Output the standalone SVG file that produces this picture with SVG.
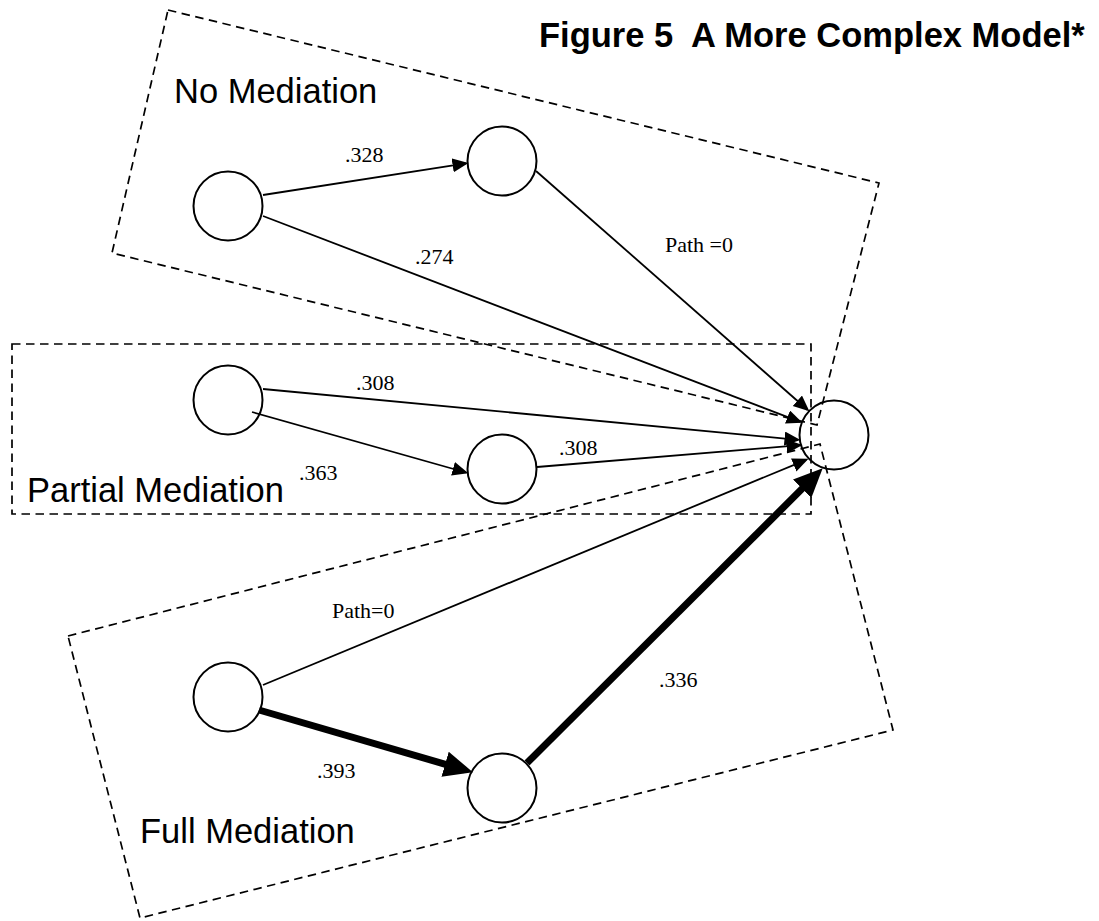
<svg xmlns="http://www.w3.org/2000/svg" width="1099" height="921" viewBox="0 0 1099 921">
<style>
.box{fill:none;stroke:#000;stroke-width:1.7;stroke-dasharray:8.5,5.5}
.node{fill:none;stroke:#000;stroke-width:2}
.thin{stroke:#000;stroke-width:1.8;fill:none}
.thick{stroke:#000;stroke-width:7;fill:none}
.num{font-family:"Liberation Serif","Times New Roman",serif;font-size:22px;fill:#000}
.grp{font-family:"Liberation Sans",Arial,sans-serif;font-size:34.5px;fill:#000}
.title{font-family:"Liberation Sans",Arial,sans-serif;font-size:34.5px;font-weight:bold;fill:#000}
</style>
<defs>
<marker id="ah" markerUnits="userSpaceOnUse" markerWidth="17" markerHeight="15" refX="13.5" refY="7" orient="auto">
<path d="M0,0 L16,7 L0,14 z" fill="#000"/>
</marker>
<marker id="ahb" markerUnits="userSpaceOnUse" markerWidth="30" markerHeight="27" refX="20" refY="13" orient="auto">
<path d="M0,0 L29,13 L0,26 z" fill="#000"/>
</marker>
</defs>
<rect width="1099" height="921" fill="#fff"/>
<text class="title" x="539" y="47" xml:space="preserve">Figure 5  A More Complex Model*</text>
<g id="boxes">
<polygon id="box-no-mediation" class="box" points="168,10 879,183 817,425 112,253"/>
<rect id="box-partial-mediation" class="box" x="12" y="344" width="799" height="170"/>
<polygon id="box-full-mediation" class="box" points="68,636 820,444 893,730 140,918"/>
</g>
<g id="labels">
<text class="grp" x="174" y="103">No Mediation</text>
<text class="grp" x="27" y="502">Partial Mediation</text>
<text class="grp" x="140" y="843">Full Mediation</text>
</g>
<g id="connectors">
<line class="thin" x1="263" y1="195" x2="466" y2="163.3" marker-end="url(#ah)"/>
<line class="thin" x1="536" y1="171" x2="807.5" y2="409.7" marker-end="url(#ah)"/>
<line class="thin" x1="263" y1="216" x2="800.1" y2="421.9" marker-end="url(#ah)"/>
<line class="thin" x1="263" y1="389" x2="798" y2="439.8" marker-end="url(#ah)"/>
<line class="thin" x1="252" y1="412" x2="466" y2="472.5" marker-end="url(#ah)"/>
<line class="thin" x1="537" y1="467" x2="800" y2="445.2" marker-end="url(#ah)"/>
<line class="thin" x1="263" y1="685" x2="806.2" y2="459.8" marker-end="url(#ah)"/>
<line class="thick" x1="259" y1="710" x2="464.3" y2="769.8" marker-end="url(#ahb)"/>
<line class="thick" x1="527" y1="763" x2="816.3" y2="474.6" marker-end="url(#ahb)"/>
<text class="num" x="345" y="162">.328</text>
<text class="num" x="415" y="264">.274</text>
<text class="num" x="665" y="252">Path =0</text>
<text class="num" x="356" y="390">.308</text>
<text class="num" x="299" y="480">.363</text>
<text class="num" x="559" y="455">.308</text>
<text class="num" x="332" y="618">Path=0</text>
<text class="num" x="317" y="778">.393</text>
<text class="num" x="659" y="687">.336</text>
</g>
<g id="node-nm-source"><circle class="node" cx="228" cy="206" r="34.5"/></g>
<g id="node-nm-mediator"><circle class="node" cx="502" cy="161" r="34.5"/></g>
<g id="node-pm-source"><circle class="node" cx="228" cy="400" r="34.5"/></g>
<g id="node-pm-mediator"><circle class="node" cx="502" cy="469" r="34.5"/></g>
<g id="node-fm-source"><circle class="node" cx="228" cy="697" r="34.5"/></g>
<g id="node-fm-mediator"><circle class="node" cx="502" cy="788" r="34.5"/></g>
<g id="node-outcome"><circle class="node" cx="834" cy="435" r="34.5"/></g>
</svg>
